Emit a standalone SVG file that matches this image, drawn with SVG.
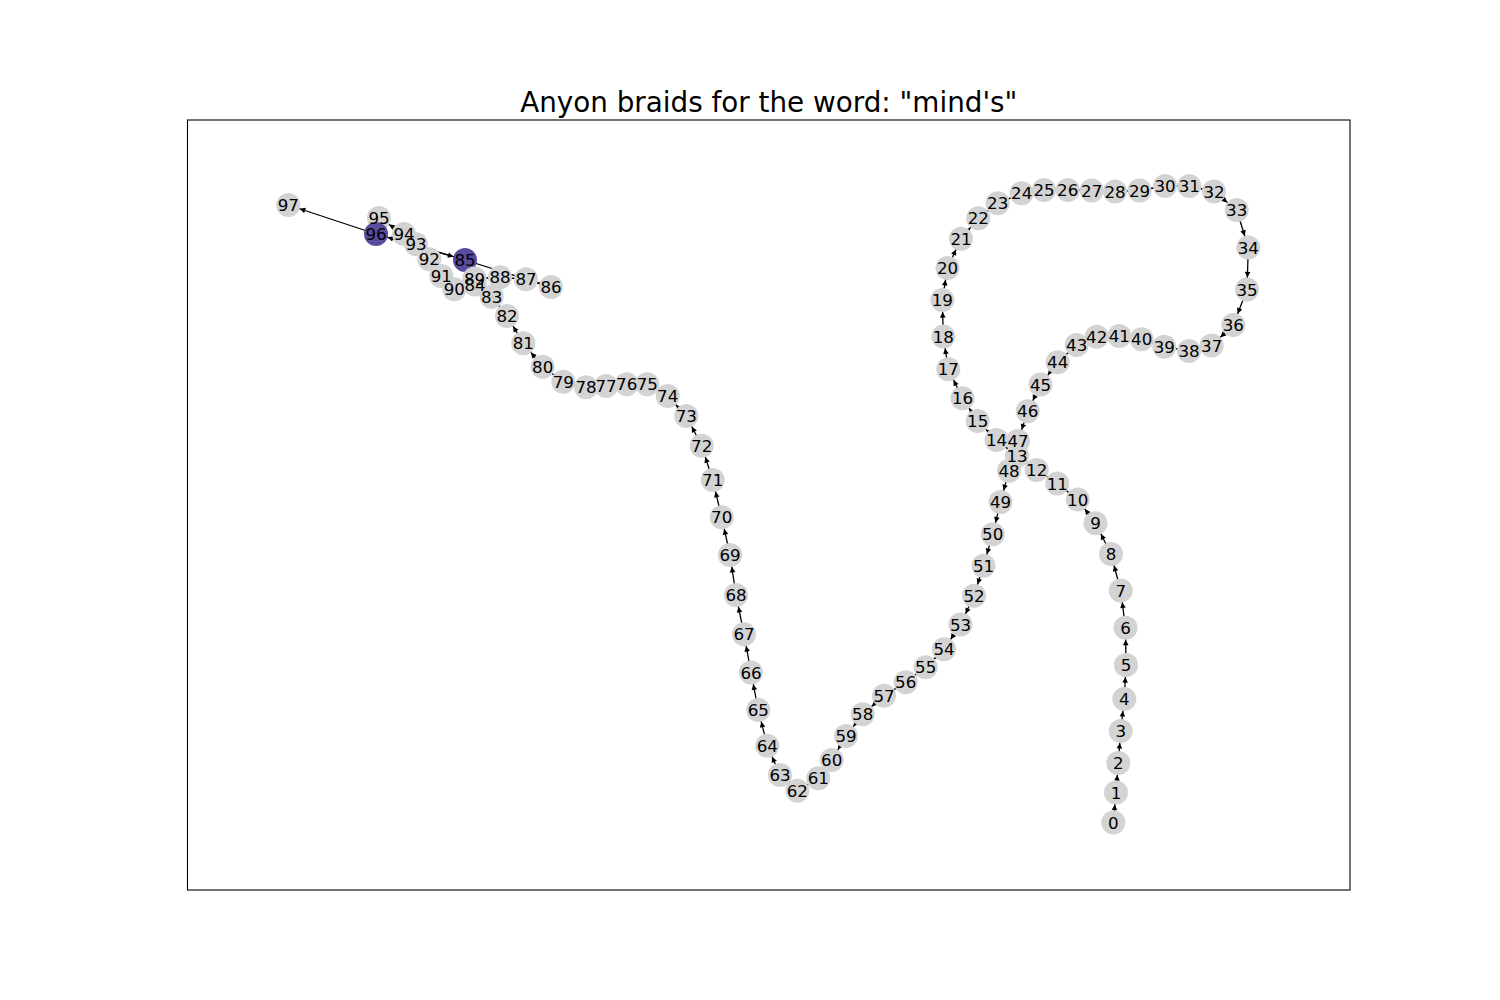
<svg xmlns="http://www.w3.org/2000/svg" width="1500" height="1000" viewBox="0 0 1500 1000">
<style>
.e{stroke:#000;stroke-width:1.3;fill:none;marker-end:url(#ah)}
.n{fill:#d3d3d3}
.p{fill:#5a4b9e}
text{font-family:"DejaVu Sans","Liberation Sans",sans-serif}
.l{font-size:16.7px;text-anchor:middle;fill:#000}
.t{font-size:27.8px;text-anchor:middle}
</style>
<defs>
<marker id="ah" markerUnits="userSpaceOnUse" orient="auto" refX="12" refY="0" markerWidth="30" markerHeight="30" overflow="visible">
<path d="M0,0 L-5.6,-2.8 L-5.6,2.8 Z" fill="#000"/>
</marker>
</defs>
<rect width="1500" height="1000" fill="#fff"/>
<rect x="187.5" y="120" width="1162.5" height="770" fill="none" stroke="#000" stroke-width="1.1"/>
<text class="t" x="768.75" y="112">Anyon braids for the word: "mind's"</text>
<g id="edges">
<line class="e" x1="1113.3" y1="822.5" x2="1116" y2="792.5"/>
<line class="e" x1="1116" y1="792.5" x2="1118.3" y2="763"/>
<line class="e" x1="1118.3" y1="763" x2="1120.7" y2="731"/>
<line class="e" x1="1120.7" y1="731" x2="1124.3" y2="699"/>
<line class="e" x1="1124.3" y1="699" x2="1126" y2="665"/>
<line class="e" x1="1126" y1="665" x2="1125.5" y2="627.7"/>
<line class="e" x1="1125.5" y1="627.7" x2="1120.7" y2="590.5"/>
<line class="e" x1="1120.7" y1="590.5" x2="1111" y2="554"/>
<line class="e" x1="1111" y1="554" x2="1095.5" y2="523.3"/>
<line class="e" x1="1095.5" y1="523.3" x2="1077.7" y2="499.5"/>
<line class="e" x1="1077.7" y1="499.5" x2="1057.3" y2="483.5"/>
<line class="e" x1="1057.3" y1="483.5" x2="1036.7" y2="470"/>
<line class="e" x1="1036.7" y1="470" x2="1017" y2="456"/>
<line class="e" x1="1017" y1="456" x2="996.5" y2="440"/>
<line class="e" x1="996.5" y1="440" x2="977.7" y2="421"/>
<line class="e" x1="977.7" y1="421" x2="962.5" y2="398.3"/>
<line class="e" x1="962.5" y1="398.3" x2="948.3" y2="369.3"/>
<line class="e" x1="948.3" y1="369.3" x2="943.3" y2="336.5"/>
<line class="e" x1="943.3" y1="336.5" x2="942.3" y2="300"/>
<line class="e" x1="942.3" y1="300" x2="947.5" y2="268"/>
<line class="e" x1="947.5" y1="268" x2="961" y2="238.7"/>
<line class="e" x1="961" y1="238.7" x2="978.3" y2="218.3"/>
<line class="e" x1="978.3" y1="218.3" x2="997.7" y2="203.3"/>
<line class="e" x1="997.7" y1="203.3" x2="1021.7" y2="193.3"/>
<line class="e" x1="1021.7" y1="193.3" x2="1044" y2="190"/>
<line class="e" x1="1044" y1="190" x2="1067.7" y2="190"/>
<line class="e" x1="1067.7" y1="190" x2="1091.7" y2="190.5"/>
<line class="e" x1="1091.7" y1="190.5" x2="1115" y2="191.5"/>
<line class="e" x1="1115" y1="191.5" x2="1139.5" y2="190.5"/>
<line class="e" x1="1139.5" y1="190.5" x2="1165" y2="186"/>
<line class="e" x1="1165" y1="186" x2="1189.3" y2="186"/>
<line class="e" x1="1189.3" y1="186" x2="1214" y2="191.5"/>
<line class="e" x1="1214" y1="191.5" x2="1236.7" y2="210"/>
<line class="e" x1="1236.7" y1="210" x2="1248.3" y2="247.5"/>
<line class="e" x1="1248.3" y1="247.5" x2="1247" y2="289.5"/>
<line class="e" x1="1247" y1="289.5" x2="1233.3" y2="325"/>
<line class="e" x1="1233.3" y1="325" x2="1211.7" y2="345.5"/>
<line class="e" x1="1211.7" y1="345.5" x2="1189" y2="351"/>
<line class="e" x1="1189" y1="351" x2="1164.3" y2="346.7"/>
<line class="e" x1="1164.3" y1="346.7" x2="1141.7" y2="339.3"/>
<line class="e" x1="1141.7" y1="339.3" x2="1119.3" y2="336"/>
<line class="e" x1="1119.3" y1="336" x2="1096.7" y2="336.7"/>
<line class="e" x1="1096.7" y1="336.7" x2="1076.7" y2="345"/>
<line class="e" x1="1076.7" y1="345" x2="1057.7" y2="362.3"/>
<line class="e" x1="1057.7" y1="362.3" x2="1040.5" y2="384.5"/>
<line class="e" x1="1040.5" y1="384.5" x2="1027.7" y2="411.3"/>
<line class="e" x1="1027.7" y1="411.3" x2="1018" y2="441"/>
<line class="e" x1="1018" y1="441" x2="1009" y2="470.7"/>
<line class="e" x1="1009" y1="470.7" x2="1000.5" y2="502"/>
<line class="e" x1="1000.5" y1="502" x2="992.7" y2="534.3"/>
<line class="e" x1="992.7" y1="534.3" x2="983.5" y2="565.7"/>
<line class="e" x1="983.5" y1="565.7" x2="974" y2="595.7"/>
<line class="e" x1="974" y1="595.7" x2="960.5" y2="624.5"/>
<line class="e" x1="960.5" y1="624.5" x2="944" y2="649.3"/>
<line class="e" x1="944" y1="649.3" x2="925.7" y2="667.3"/>
<line class="e" x1="925.7" y1="667.3" x2="905.7" y2="682.3"/>
<line class="e" x1="905.7" y1="682.3" x2="884" y2="695.7"/>
<line class="e" x1="884" y1="695.7" x2="862.7" y2="714.3"/>
<line class="e" x1="862.7" y1="714.3" x2="846" y2="736"/>
<line class="e" x1="846" y1="736" x2="831.7" y2="760"/>
<line class="e" x1="831.7" y1="760" x2="818.3" y2="778.3"/>
<line class="e" x1="818.3" y1="778.3" x2="797.3" y2="790.7"/>
<line class="e" x1="797.3" y1="790.7" x2="780" y2="775"/>
<line class="e" x1="780" y1="775" x2="767.3" y2="745.7"/>
<line class="e" x1="767.3" y1="745.7" x2="758.3" y2="710"/>
<line class="e" x1="758.3" y1="710" x2="751" y2="672.5"/>
<line class="e" x1="751" y1="672.5" x2="744" y2="634.2"/>
<line class="e" x1="744" y1="634.2" x2="736" y2="595"/>
<line class="e" x1="736" y1="595" x2="730" y2="555"/>
<line class="e" x1="730" y1="555" x2="721.7" y2="517.3"/>
<line class="e" x1="721.7" y1="517.3" x2="712.7" y2="480"/>
<line class="e" x1="712.7" y1="480" x2="701.7" y2="445.7"/>
<line class="e" x1="701.7" y1="445.7" x2="686.3" y2="416"/>
<line class="e" x1="686.3" y1="416" x2="667.7" y2="396"/>
<line class="e" x1="667.7" y1="396" x2="647.3" y2="384.3"/>
<line class="e" x1="647.3" y1="384.3" x2="626.7" y2="384.3"/>
<line class="e" x1="626.7" y1="384.3" x2="606" y2="386"/>
<line class="e" x1="606" y1="386" x2="586" y2="387.3"/>
<line class="e" x1="586" y1="387.3" x2="563.3" y2="381.7"/>
<line class="e" x1="563.3" y1="381.7" x2="542.7" y2="366.7"/>
<line class="e" x1="542.7" y1="366.7" x2="523.3" y2="343.3"/>
<line class="e" x1="523.3" y1="343.3" x2="507" y2="316"/>
<line class="e" x1="507" y1="316" x2="491.7" y2="296.7"/>
<line class="e" x1="491.7" y1="296.7" x2="475" y2="284.5"/>
<line class="e" x1="475" y1="284.5" x2="465" y2="260"/>
<line class="e" x1="465" y1="260" x2="551" y2="287"/>
<line class="e" x1="551" y1="287" x2="526" y2="279.3"/>
<line class="e" x1="526" y1="279.3" x2="500" y2="277.3"/>
<line class="e" x1="500" y1="277.3" x2="474.5" y2="278.5"/>
<line class="e" x1="474.5" y1="278.5" x2="454.3" y2="289.2"/>
<line class="e" x1="454.3" y1="289.2" x2="441.3" y2="276"/>
<line class="e" x1="441.3" y1="276" x2="429.3" y2="259.2"/>
<line class="e" x1="429.3" y1="259.2" x2="416" y2="244.3"/>
<line class="e" x1="416" y1="244.3" x2="404" y2="234"/>
<line class="e" x1="404" y1="234" x2="379" y2="218"/>
<line class="e" x1="379" y1="218" x2="376" y2="234"/>
<line class="e" x1="376" y1="234" x2="288.3" y2="205"/>
<line class="e" x1="376" y1="234" x2="465" y2="260"/>
<line class="e" x1="465" y1="260" x2="376" y2="234"/>
</g>
<g id="nodes">
<g id="n0"><circle class="n" cx="1113.3" cy="822.5" r="12"/></g>
<g id="n1"><circle class="n" cx="1116" cy="792.5" r="12"/></g>
<g id="n2"><circle class="n" cx="1118.3" cy="763" r="12"/></g>
<g id="n3"><circle class="n" cx="1120.7" cy="731" r="12"/></g>
<g id="n4"><circle class="n" cx="1124.3" cy="699" r="12"/></g>
<g id="n5"><circle class="n" cx="1126" cy="665" r="12"/></g>
<g id="n6"><circle class="n" cx="1125.5" cy="627.7" r="12"/></g>
<g id="n7"><circle class="n" cx="1120.7" cy="590.5" r="12"/></g>
<g id="n8"><circle class="n" cx="1111" cy="554" r="12"/></g>
<g id="n9"><circle class="n" cx="1095.5" cy="523.3" r="12"/></g>
<g id="n10"><circle class="n" cx="1077.7" cy="499.5" r="12"/></g>
<g id="n11"><circle class="n" cx="1057.3" cy="483.5" r="12"/></g>
<g id="n12"><circle class="n" cx="1036.7" cy="470" r="12"/></g>
<g id="n13"><circle class="n" cx="1017" cy="456" r="12"/></g>
<g id="n14"><circle class="n" cx="996.5" cy="440" r="12"/></g>
<g id="n15"><circle class="n" cx="977.7" cy="421" r="12"/></g>
<g id="n16"><circle class="n" cx="962.5" cy="398.3" r="12"/></g>
<g id="n17"><circle class="n" cx="948.3" cy="369.3" r="12"/></g>
<g id="n18"><circle class="n" cx="943.3" cy="336.5" r="12"/></g>
<g id="n19"><circle class="n" cx="942.3" cy="300" r="12"/></g>
<g id="n20"><circle class="n" cx="947.5" cy="268" r="12"/></g>
<g id="n21"><circle class="n" cx="961" cy="238.7" r="12"/></g>
<g id="n22"><circle class="n" cx="978.3" cy="218.3" r="12"/></g>
<g id="n23"><circle class="n" cx="997.7" cy="203.3" r="12"/></g>
<g id="n24"><circle class="n" cx="1021.7" cy="193.3" r="12"/></g>
<g id="n25"><circle class="n" cx="1044" cy="190" r="12"/></g>
<g id="n26"><circle class="n" cx="1067.7" cy="190" r="12"/></g>
<g id="n27"><circle class="n" cx="1091.7" cy="190.5" r="12"/></g>
<g id="n28"><circle class="n" cx="1115" cy="191.5" r="12"/></g>
<g id="n29"><circle class="n" cx="1139.5" cy="190.5" r="12"/></g>
<g id="n30"><circle class="n" cx="1165" cy="186" r="12"/></g>
<g id="n31"><circle class="n" cx="1189.3" cy="186" r="12"/></g>
<g id="n32"><circle class="n" cx="1214" cy="191.5" r="12"/></g>
<g id="n33"><circle class="n" cx="1236.7" cy="210" r="12"/></g>
<g id="n34"><circle class="n" cx="1248.3" cy="247.5" r="12"/></g>
<g id="n35"><circle class="n" cx="1247" cy="289.5" r="12"/></g>
<g id="n36"><circle class="n" cx="1233.3" cy="325" r="12"/></g>
<g id="n37"><circle class="n" cx="1211.7" cy="345.5" r="12"/></g>
<g id="n38"><circle class="n" cx="1189" cy="351" r="12"/></g>
<g id="n39"><circle class="n" cx="1164.3" cy="346.7" r="12"/></g>
<g id="n40"><circle class="n" cx="1141.7" cy="339.3" r="12"/></g>
<g id="n41"><circle class="n" cx="1119.3" cy="336" r="12"/></g>
<g id="n42"><circle class="n" cx="1096.7" cy="336.7" r="12"/></g>
<g id="n43"><circle class="n" cx="1076.7" cy="345" r="12"/></g>
<g id="n44"><circle class="n" cx="1057.7" cy="362.3" r="12"/></g>
<g id="n45"><circle class="n" cx="1040.5" cy="384.5" r="12"/></g>
<g id="n46"><circle class="n" cx="1027.7" cy="411.3" r="12"/></g>
<g id="n47"><circle class="n" cx="1018" cy="441" r="12"/></g>
<g id="n48"><circle class="n" cx="1009" cy="470.7" r="12"/></g>
<g id="n49"><circle class="n" cx="1000.5" cy="502" r="12"/></g>
<g id="n50"><circle class="n" cx="992.7" cy="534.3" r="12"/></g>
<g id="n51"><circle class="n" cx="983.5" cy="565.7" r="12"/></g>
<g id="n52"><circle class="n" cx="974" cy="595.7" r="12"/></g>
<g id="n53"><circle class="n" cx="960.5" cy="624.5" r="12"/></g>
<g id="n54"><circle class="n" cx="944" cy="649.3" r="12"/></g>
<g id="n55"><circle class="n" cx="925.7" cy="667.3" r="12"/></g>
<g id="n56"><circle class="n" cx="905.7" cy="682.3" r="12"/></g>
<g id="n57"><circle class="n" cx="884" cy="695.7" r="12"/></g>
<g id="n58"><circle class="n" cx="862.7" cy="714.3" r="12"/></g>
<g id="n59"><circle class="n" cx="846" cy="736" r="12"/></g>
<g id="n60"><circle class="n" cx="831.7" cy="760" r="12"/></g>
<g id="n61"><circle class="n" cx="818.3" cy="778.3" r="12"/></g>
<g id="n62"><circle class="n" cx="797.3" cy="790.7" r="12"/></g>
<g id="n63"><circle class="n" cx="780" cy="775" r="12"/></g>
<g id="n64"><circle class="n" cx="767.3" cy="745.7" r="12"/></g>
<g id="n65"><circle class="n" cx="758.3" cy="710" r="12"/></g>
<g id="n66"><circle class="n" cx="751" cy="672.5" r="12"/></g>
<g id="n67"><circle class="n" cx="744" cy="634.2" r="12"/></g>
<g id="n68"><circle class="n" cx="736" cy="595" r="12"/></g>
<g id="n69"><circle class="n" cx="730" cy="555" r="12"/></g>
<g id="n70"><circle class="n" cx="721.7" cy="517.3" r="12"/></g>
<g id="n71"><circle class="n" cx="712.7" cy="480" r="12"/></g>
<g id="n72"><circle class="n" cx="701.7" cy="445.7" r="12"/></g>
<g id="n73"><circle class="n" cx="686.3" cy="416" r="12"/></g>
<g id="n74"><circle class="n" cx="667.7" cy="396" r="12"/></g>
<g id="n75"><circle class="n" cx="647.3" cy="384.3" r="12"/></g>
<g id="n76"><circle class="n" cx="626.7" cy="384.3" r="12"/></g>
<g id="n77"><circle class="n" cx="606" cy="386" r="12"/></g>
<g id="n78"><circle class="n" cx="586" cy="387.3" r="12"/></g>
<g id="n79"><circle class="n" cx="563.3" cy="381.7" r="12"/></g>
<g id="n80"><circle class="n" cx="542.7" cy="366.7" r="12"/></g>
<g id="n81"><circle class="n" cx="523.3" cy="343.3" r="12"/></g>
<g id="n82"><circle class="n" cx="507" cy="316" r="12"/></g>
<g id="n83"><circle class="n" cx="491.7" cy="296.7" r="12"/></g>
<g id="n84"><circle class="n" cx="475" cy="284.5" r="12"/></g>
<g id="n85"><circle class="p" cx="465" cy="260" r="12"/></g>
<g id="n86"><circle class="n" cx="551" cy="287" r="12"/></g>
<g id="n87"><circle class="n" cx="526" cy="279.3" r="12"/></g>
<g id="n88"><circle class="n" cx="500" cy="277.3" r="12"/></g>
<g id="n89"><circle class="n" cx="474.5" cy="278.5" r="12"/></g>
<g id="n90"><circle class="n" cx="454.3" cy="289.2" r="12"/></g>
<g id="n91"><circle class="n" cx="441.3" cy="276" r="12"/></g>
<g id="n92"><circle class="n" cx="429.3" cy="259.2" r="12"/></g>
<g id="n93"><circle class="n" cx="416" cy="244.3" r="12"/></g>
<g id="n94"><circle class="n" cx="404" cy="234" r="12"/></g>
<g id="n95"><circle class="n" cx="379" cy="218" r="12"/></g>
<g id="n96"><circle class="p" cx="376" cy="234" r="12"/></g>
<g id="n97"><circle class="n" cx="288.3" cy="205" r="12"/></g>
</g>
<g id="labels">
<text class="l" x="1113.3" y="828.5">0</text>
<text class="l" x="1116" y="798.5">1</text>
<text class="l" x="1118.3" y="769">2</text>
<text class="l" x="1120.7" y="737">3</text>
<text class="l" x="1124.3" y="705">4</text>
<text class="l" x="1126" y="671">5</text>
<text class="l" x="1125.5" y="633.7">6</text>
<text class="l" x="1120.7" y="596.5">7</text>
<text class="l" x="1111" y="560">8</text>
<text class="l" x="1095.5" y="529.3">9</text>
<text class="l" x="1077.7" y="505.5">10</text>
<text class="l" x="1057.3" y="489.5">11</text>
<text class="l" x="1036.7" y="476">12</text>
<text class="l" x="1017" y="462">13</text>
<text class="l" x="996.5" y="446">14</text>
<text class="l" x="977.7" y="427">15</text>
<text class="l" x="962.5" y="404.3">16</text>
<text class="l" x="948.3" y="375.3">17</text>
<text class="l" x="943.3" y="342.5">18</text>
<text class="l" x="942.3" y="306">19</text>
<text class="l" x="947.5" y="274">20</text>
<text class="l" x="961" y="244.7">21</text>
<text class="l" x="978.3" y="224.3">22</text>
<text class="l" x="997.7" y="209.3">23</text>
<text class="l" x="1021.7" y="199.3">24</text>
<text class="l" x="1044" y="196">25</text>
<text class="l" x="1067.7" y="196">26</text>
<text class="l" x="1091.7" y="196.5">27</text>
<text class="l" x="1115" y="197.5">28</text>
<text class="l" x="1139.5" y="196.5">29</text>
<text class="l" x="1165" y="192">30</text>
<text class="l" x="1189.3" y="192">31</text>
<text class="l" x="1214" y="197.5">32</text>
<text class="l" x="1236.7" y="216">33</text>
<text class="l" x="1248.3" y="253.5">34</text>
<text class="l" x="1247" y="295.5">35</text>
<text class="l" x="1233.3" y="331">36</text>
<text class="l" x="1211.7" y="351.5">37</text>
<text class="l" x="1189" y="357">38</text>
<text class="l" x="1164.3" y="352.7">39</text>
<text class="l" x="1141.7" y="345.3">40</text>
<text class="l" x="1119.3" y="342">41</text>
<text class="l" x="1096.7" y="342.7">42</text>
<text class="l" x="1076.7" y="351">43</text>
<text class="l" x="1057.7" y="368.3">44</text>
<text class="l" x="1040.5" y="390.5">45</text>
<text class="l" x="1027.7" y="417.3">46</text>
<text class="l" x="1018" y="447">47</text>
<text class="l" x="1009" y="476.7">48</text>
<text class="l" x="1000.5" y="508">49</text>
<text class="l" x="992.7" y="540.3">50</text>
<text class="l" x="983.5" y="571.7">51</text>
<text class="l" x="974" y="601.7">52</text>
<text class="l" x="960.5" y="630.5">53</text>
<text class="l" x="944" y="655.3">54</text>
<text class="l" x="925.7" y="673.3">55</text>
<text class="l" x="905.7" y="688.3">56</text>
<text class="l" x="884" y="701.7">57</text>
<text class="l" x="862.7" y="720.3">58</text>
<text class="l" x="846" y="742">59</text>
<text class="l" x="831.7" y="766">60</text>
<text class="l" x="818.3" y="784.3">61</text>
<text class="l" x="797.3" y="796.7">62</text>
<text class="l" x="780" y="781">63</text>
<text class="l" x="767.3" y="751.7">64</text>
<text class="l" x="758.3" y="716">65</text>
<text class="l" x="751" y="678.5">66</text>
<text class="l" x="744" y="640.2">67</text>
<text class="l" x="736" y="601">68</text>
<text class="l" x="730" y="561">69</text>
<text class="l" x="721.7" y="523.3">70</text>
<text class="l" x="712.7" y="486">71</text>
<text class="l" x="701.7" y="451.7">72</text>
<text class="l" x="686.3" y="422">73</text>
<text class="l" x="667.7" y="402">74</text>
<text class="l" x="647.3" y="390.3">75</text>
<text class="l" x="626.7" y="390.3">76</text>
<text class="l" x="606" y="392">77</text>
<text class="l" x="586" y="393.3">78</text>
<text class="l" x="563.3" y="387.7">79</text>
<text class="l" x="542.7" y="372.7">80</text>
<text class="l" x="523.3" y="349.3">81</text>
<text class="l" x="507" y="322">82</text>
<text class="l" x="491.7" y="302.7">83</text>
<text class="l" x="475" y="290.5">84</text>
<text class="l" x="465" y="266">85</text>
<text class="l" x="551" y="293">86</text>
<text class="l" x="526" y="285.3">87</text>
<text class="l" x="500" y="283.3">88</text>
<text class="l" x="474.5" y="284.5">89</text>
<text class="l" x="454.3" y="295.2">90</text>
<text class="l" x="441.3" y="282">91</text>
<text class="l" x="429.3" y="265.2">92</text>
<text class="l" x="416" y="250.3">93</text>
<text class="l" x="404" y="240">94</text>
<text class="l" x="379" y="224">95</text>
<text class="l" x="376" y="240">96</text>
<text class="l" x="288.3" y="211">97</text>
</g>
</svg>
